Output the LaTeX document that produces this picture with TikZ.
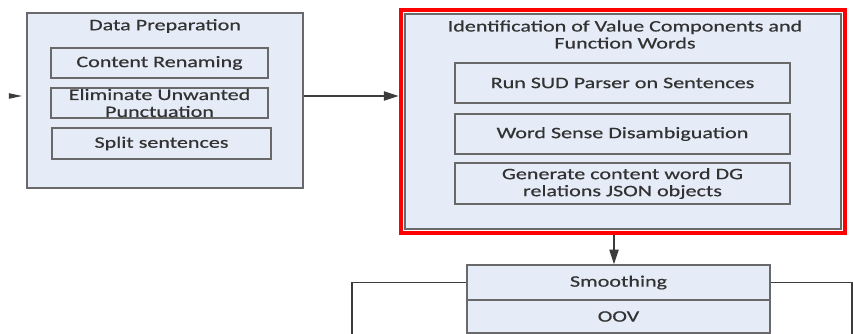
\documentclass[tikz,border=0pt]{standalone}
\usepackage{fontspec}
\setmainfont{Carlito}[FakeStretch=1.38,FakeBold=0.5]
\usetikzlibrary{arrows.meta,fit,calc}
\definecolor{boxfill}{RGB}{230,236,247}
\definecolor{boxline}{RGB}{105,105,105}
\definecolor{txt}{RGB}{50,50,50}
\definecolor{linec}{RGB}{60,60,60}
\newcommand\px{0.75pt}
\begin{document}
\begin{tikzpicture}[x=0.75pt,y=-0.75pt,
  every node/.style={font=\fontsize{12}{12.75}\selectfont, text=txt},
  panel/.style={draw=boxline, fill=boxfill, line width=1.3pt, inner sep=0pt},
  stepbox/.style={draw=boxline, fill=boxfill, line width=1.1pt, inner sep=0pt, align=center},
  arr/.style={draw=linec, line width=0.9pt, -{Triangle[length=11pt,width=7pt]}},
  link/.style={draw=linec, line width=0.9pt},
]
\useasboundingbox (0,0) rectangle (853,334);
\fill[white] (0,0) rectangle (853,334);
\begin{scope}
\clip (0,0) rectangle (853,334);

% Data preparation panel
\node[panel, minimum width=276*\px, minimum height=175*\px] (dp) at (165,100.5) {};
\node (dptitle) at (165,26) {Data Preparation};
\node[stepbox, minimum width=217*\px, minimum height=30*\px] (cr) at (159.5,63) {Content Renaming};
\node[stepbox, minimum width=217*\px, minimum height=30*\px] (eup) at (159.5,103) {Eliminate Unwanted\\Punctuation};
\node[stepbox, minimum width=219*\px, minimum height=31*\px] (ss) at (161.5,143.5) {Split sentences};

% Identification panel with red frame
\node[panel, minimum width=436*\px, minimum height=215*\px] (ident) at (623,121.5) {};
\node[fit=(ident), inner sep=3.2*\px, draw=red, line width=3.6pt] (identframe) {};
\node[align=center] (idtitle) at (625,34.5) {Identification of Value Components and\\Function Words};
\node[stepbox, minimum width=335*\px, minimum height=40*\px] (sud) at (622.5,83) {Run SUD Parser on Sentences};
\node[stepbox, minimum width=335*\px, minimum height=40*\px] (wsd) at (622.5,134) {Word Sense Disambiguation};
\node[stepbox, minimum width=335*\px, minimum height=41*\px] (gen) at (622.5,183.5) {Generate content word DG\\relations JSON objects};

% Smoothing / OOV block
\node[stepbox, minimum width=303*\px, minimum height=35*\px] (smooth) at (618.5,282.5) {Smoothing};
\node[stepbox, minimum width=303*\px, minimum height=33*\px] (oov) at (618.5,316.5) {OOV};

% Connectors
\coordinate (in) at (9,96);
\coordinate (downL) at (352,350);
\coordinate (downR) at (852,350);
\draw[link, -{Triangle[length=10pt,width=4pt]}, shorten >=3pt] (in) -- (in -| dp.west);
\draw[arr] (dp.east |- in) -- (identframe.west |- in);
\draw[arr] ([xshift=-4.5*\px]smooth.north |- identframe.south) -- ([xshift=-4.5*\px]smooth.north);
\draw[arr] (smooth.west) -| (downL);
\draw[arr] (smooth.east) -| (downR);
\end{scope}
\end{tikzpicture}
\end{document}
